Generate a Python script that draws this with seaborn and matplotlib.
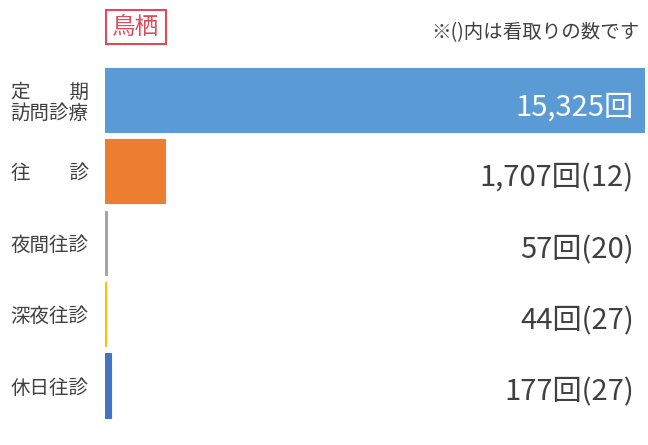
import matplotlib
matplotlib.use("Agg")
import matplotlib.pyplot as plt
import seaborn as sns
import pandas as pd

# data
categories = ["定　　期\n訪問診療", "往　　診", "夜間往診", "深夜往診", "休日往診"]
counts = [15325, 1707, 57, 44, 177]
mitori = [None, 12, 20, 27, 27]
bar_colors = ["#5B9BD5", "#ED7D31", "#A5A5A5", "#FFC000", "#4472C4"]
area_name = "鳥栖"
note = "※()内は看取りの数です"

sns.set_theme(style="white")
plt.rcParams["font.family"] = ["Noto Sans CJK JP", "DejaVu Sans"]

df = pd.DataFrame({"category": categories, "count": counts})

fig = plt.figure(figsize=(6.48, 4.45), dpi=100)
ax = fig.add_axes([0.1613, 0.0535, 0.8341, 0.802])

sns.barplot(data=df, x="count", y="category", hue="category",
            palette=bar_colors, orient="h", width=0.9, saturation=1,
            legend=False, linewidth=0, ax=ax)

# thin outline in the bar colour so the tiny bars stay visible
for p in ax.patches:
    p.set_edgecolor(p.get_facecolor())
    p.set_linewidth(0.8)

ax.set_xlim(0, max(counts))
ax.set_ylim(len(categories) - 0.5, -0.5)
ax.set_xlabel("")
ax.set_ylabel("")
ax.set_xticks([])
sns.despine(ax=ax, left=True, bottom=True)
ax.tick_params(axis="y", length=0, pad=11.5)
for lbl in ax.get_yticklabels():
    lbl.set_fontsize(14)
    lbl.set_color("#404040")
    lbl.set_linespacing(1.0)

for i, (c, m) in enumerate(zip(counts, mitori)):
    txt = f"{c:,}回" if m is None else f"{c:,}回({m})"
    col = "white" if i == 0 else "#404040"
    ax.text(0.979, i + 0.1, txt, transform=ax.get_yaxis_transform(),
            ha="right", va="center", fontsize=21, color=col)

# area label in a red box and the note
fig.text(136 / 648, 1 - 27 / 445, area_name, ha="center", va="center",
         fontsize=17, color="#DC4B5A",
         bbox=dict(boxstyle="square,pad=0.25", fc="white", ec="#DC4B5A", lw=1.5))
fig.text(640 / 648, 1 - 33 / 445, note, ha="right", va="center",
         fontsize=14, color="#404040")

fig.savefig("out.png", dpi=100)
